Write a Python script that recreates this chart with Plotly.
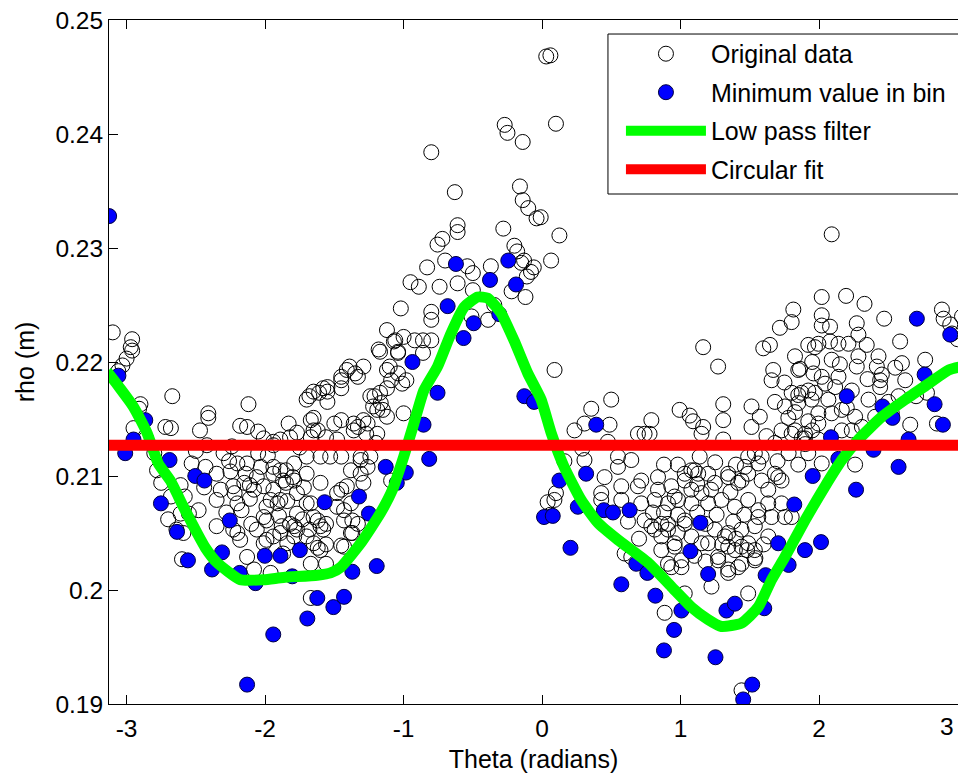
import math
import plotly.graph_objects as go

# ---------------- data (theta in radians, rho in metres) ----------------
orig_region1 = [
    (-3.10, 0.2226), (-2.96, 0.2220), (-2.97, 0.2213), (-2.96, 0.2210), (-3.00, 0.2203),
    (-3.03, 0.2197), (-3.06, 0.2192), (-2.90, 0.2163), (-2.91, 0.2159), (-2.95, 0.2142),
    (-2.67, 0.2170), (-2.72, 0.2143), (-2.41, 0.2155), (-2.41, 0.2151), (-2.42, 0.2127),
    (-2.53, 0.2111), (-2.43, 0.2108), (-2.35, 0.2102), (-2.75, 0.2094), (-2.61, 0.2092),
    (-2.68, 0.2082), (-2.58, 0.2082), (-2.55, 0.2067), (-2.61, 0.2067), (-2.35, 0.2079),
    (-2.35, 0.2056), (-2.59, 0.2050), (-2.64, 0.2053), (-2.60, 0.2027), (-2.68, 0.2142),
    (-2.80, 0.2120), (-2.86, 0.2133), (-2.78, 0.2105), (-2.50, 0.2122), (-2.47, 0.2140),
    (-2.44, 0.2090), (-2.48, 0.2070), (-2.30, 0.2120), (-2.32, 0.2088), (-2.70, 0.2062),
]
orig_region2 = [
    (-2.26, 0.2113), (-2.25, 0.2104), (-2.14, 0.2102), (-2.06, 0.2099), (-1.94, 0.2108),
    (-1.85, 0.2105), (-1.80, 0.2099), (-1.70, 0.2102), (-1.60, 0.2094), (-1.85, 0.2094),
    (-1.94, 0.2088), (-2.11, 0.2092), (-2.23, 0.2091), (-2.20, 0.2076), (-2.11, 0.2080),
    (-1.99, 0.2073), (-1.89, 0.2079), (-1.77, 0.2067), (-1.70, 0.2076), (-1.62, 0.2061),
    (-1.99, 0.2061), (-1.88, 0.2056), (-1.77, 0.2053), (-1.68, 0.2053), (-2.20, 0.2050),
    (-1.94, 0.2047), (-2.01, 0.2041), (-1.84, 0.2041), (-1.65, 0.2041), (-2.24, 0.2126),
    (-2.12, 0.2163), (-2.18, 0.2144), (-2.05, 0.2139), (-1.83, 0.2146), (-1.77, 0.2138),
    (-1.70, 0.2167), (-1.65, 0.2174), (-1.58, 0.2177), (-1.65, 0.2151), (-1.65, 0.2140),
    (-1.94, 0.2130), (-2.13, 0.2143), (-2.23, 0.2053), (-2.13, 0.2029), (-2.08, 0.2018),
    (-1.99, 0.2044), (-1.89, 0.2050), (-1.79, 0.2056), (-1.70, 0.2047), (-1.60, 0.2035),
    (-1.96, 0.2015), (-1.67, 0.2023), (-1.67, 0.1993), (-1.60, 0.2056), (-2.18, 0.2044),
    (-1.87, 0.2032), (-1.68, 0.2170), (-1.61, 0.2173), (-1.55, 0.2174), (-1.55, 0.2165),
    (-1.67, 0.2149), (-1.62, 0.2140), (-1.67, 0.2134), (-1.56, 0.2134), (-1.89, 0.2132),
    (-1.94, 0.2127), (-2.01, 0.2133), (-1.82, 0.2134), (-1.60, 0.2117), (-1.70, 0.2117),
    (-1.79, 0.2111), (-1.89, 0.2105), (-1.87, 0.2096), (-1.79, 0.2096), (-1.94, 0.2102),
    (-2.01, 0.2091), (-2.08, 0.2088), (-2.15, 0.2094), (-2.20, 0.2111), (-2.13, 0.2111),
    (-1.96, 0.2079), (-1.91, 0.2076), (-1.77, 0.2085), (-1.67, 0.2076), (-1.58, 0.2053),
    (-1.65, 0.2064), (-1.82, 0.2058), (-2.01, 0.2064), (-2.06, 0.2053), (-1.79, 0.2047),
    (-1.62, 0.2037), (-1.55, 0.2178), (-2.05, 0.2120), (-1.98, 0.2118), (-1.75, 0.2125),
    (-1.72, 0.2090), (-2.17, 0.2070), (-2.28, 0.2068), (-2.10, 0.2058), (-1.90, 0.2065),
    (-1.73, 0.2062), (-1.84, 0.2078), (-2.03, 0.2108), (-2.22, 0.2085),
]
orig_region3 = [
    (-1.45, 0.2187), (-1.45, 0.2177), (-1.39, 0.2196), (-1.35, 0.2190), (-1.29, 0.2196),
    (-1.33, 0.2187), (-1.18, 0.2211), (-1.10, 0.2196), (-1.07, 0.2218), (-1.04, 0.2208),
    (-1.00, 0.2222), (-0.92, 0.2219), (-0.86, 0.2219), (-1.04, 0.2190), (-0.98, 0.2184),
    (-1.09, 0.2184), (-1.12, 0.2177), (-1.24, 0.2170), (-1.17, 0.2173), (-1.15, 0.2158),
    (-1.22, 0.2161), (-1.12, 0.2152), (-1.00, 0.2155), (-1.29, 0.2149), (-1.36, 0.2146),
    (-1.45, 0.2149), (-1.50, 0.2146), (-1.36, 0.2140), (-1.27, 0.2137), (-1.19, 0.2137),
    (-1.48, 0.2132), (-1.31, 0.2117), (-1.24, 0.2117), (-1.26, 0.2108), (-1.38, 0.2105),
    (-1.45, 0.2117), (-1.53, 0.2117), (-1.48, 0.2073), (-1.45, 0.2088), (-1.38, 0.2076),
    (-1.43, 0.2061), (-1.33, 0.2058), (-1.38, 0.2050), (-1.45, 0.2039), (-1.19, 0.2158),
    (-1.21, 0.2170), (-1.41, 0.2193), (-1.45, 0.2184), (-1.17, 0.2209), (-1.04, 0.2209),
    (-0.86, 0.2208), (-1.12, 0.2193), (-1.01, 0.2181), (-1.12, 0.2228), (-1.06, 0.2219),
    (-0.80, 0.2219), (-1.02, 0.2247), (-0.80, 0.2244), (-0.80, 0.2237), (-0.95, 0.2270),
    (-0.89, 0.2266), (-0.74, 0.2266), (-0.83, 0.2283), (-0.80, 0.2384), (-1.33, 0.2143),
    (-1.26, 0.2146), (-1.20, 0.2129), (-1.31, 0.2114), (-1.31, 0.2102), (-1.41, 0.2091),
    (-1.48, 0.2085), (-1.43, 0.2070), (-1.37, 0.2061), (-1.37, 0.2050), (-1.43, 0.2038),
    (-1.56, 0.2058), (-1.56, 0.2040), (-1.56, 0.2023), (-1.09, 0.2096), (-1.29, 0.2094),
    (-1.165, 0.2164),
]
orig_region4 = [
    (-0.27, 0.2408), (-0.25, 0.2401), (-0.14, 0.2393), (-0.63, 0.2349), (-0.16, 0.2354),
    (-0.14, 0.2342), (-0.10, 0.2335), (-0.04, 0.2326), (-0.28, 0.2317), (-0.61, 0.2320),
    (-0.61, 0.2314), (-0.72, 0.2308), (-0.755, 0.2303), (-0.70, 0.2289), (-0.54, 0.2284),
    (-0.50, 0.2278), (-0.37, 0.2284), (-0.18, 0.2297), (-0.13, 0.2289), (-0.08, 0.2279),
    (-0.12, 0.2257), (-0.61, 0.2269), (-0.50, 0.2263), (-0.345, 0.2250), (-0.39, 0.2237),
    (-0.51, 0.2240), (0.03, 0.2468), (0.06, 0.2469), (0.10, 0.2409), (-0.01, 0.2327),
    (0.125, 0.2311), (0.065, 0.2289), (0.09, 0.2193), (0.04, 0.2077), (0.06, 0.2066),
    (0.10, 0.2085), (-0.22, 0.2262), (-0.20, 0.2302), (-0.15, 0.2287), (-0.06, 0.2283),
    (-0.11, 0.2275),
]
orig_region5 = [
    (0.355, 0.2159), (0.306, 0.2146), (0.234, 0.2140), (0.487, 0.2145), (0.499, 0.2167),
    (0.789, 0.2149), (0.740, 0.2137), (0.692, 0.2137), (0.475, 0.2130), (0.548, 0.2117),
    (0.548, 0.2108), (0.644, 0.2114), (0.306, 0.2114), (0.161, 0.2113), (0.451, 0.2099),
    (0.572, 0.2091), (0.716, 0.2096), (0.692, 0.2091), (0.837, 0.2099), (0.837, 0.2088),
    (0.933, 0.2091), (1.030, 0.2096), (0.957, 0.2082), (1.078, 0.2088), (1.151, 0.2085),
    (1.247, 0.2094), (1.344, 0.2099), (1.416, 0.2094), (1.488, 0.2102), (1.127, 0.2102),
    (1.078, 0.2105), (1.585, 0.2096), (0.427, 0.2085), (0.427, 0.2079), (0.572, 0.2079),
    (0.716, 0.2076), (0.813, 0.2079), (0.909, 0.2076), (0.982, 0.2079), (1.078, 0.2076),
    (1.199, 0.2076), (1.295, 0.2079), (1.392, 0.2073), (1.488, 0.2079), (1.561, 0.2070),
    (0.089, 0.2079), (0.740, 0.2061), (0.789, 0.2056), (0.861, 0.2058), (0.909, 0.2053),
    (1.030, 0.2058), (1.247, 0.2053), (1.344, 0.2050), (1.440, 0.2053), (1.536, 0.2056),
    (1.633, 0.2047), (1.344, 0.2038), (1.440, 0.2038), (1.536, 0.2035), (0.957, 0.2038),
    (0.861, 0.2035), (1.006, 0.2026), (0.933, 0.2020), (0.596, 0.2032), (0.644, 0.2029),
    (1.271, 0.2026), (1.344, 0.2015), (1.416, 0.2020), (1.223, 0.2003), (1.488, 0.1997),
    (0.885, 0.1980), (1.030, 0.1997), (1.078, 0.2047), (1.151, 0.2041), (1.163, 0.2213),
    (1.271, 0.2196), (0.993, 0.2158), (1.066, 0.2153), (1.090, 0.2148), (1.163, 0.2143),
    (1.151, 0.2137), (1.308, 0.2163), (1.308, 0.2149), (1.308, 0.2132), (1.512, 0.2161),
    (1.572, 0.2152), (1.512, 0.2143), (1.138, 0.2117), (1.488, 0.2117), (1.585, 0.2117),
    (1.561, 0.2111), (1.030, 0.2102), (1.102, 0.2105), (1.199, 0.2102), (1.344, 0.2102),
    (1.440, 0.2096), (1.633, 0.2088), (1.633, 0.2076), (1.561, 0.2064), (1.320, 0.2047),
    (1.199, 0.2041), (1.271, 0.2029), (1.392, 0.2035), (1.488, 0.2041), (1.536, 0.2026),
    (1.440, 0.2023), (1.344, 0.2018), (0.957, 0.2041), (0.861, 0.2047), (0.813, 0.2053),
    (0.909, 0.2058), (1.030, 0.2061), (0.740, 0.2023), (0.909, 0.2023), (1.006, 0.2020),
    (0.776, 0.2137), (0.290, 0.2124), (1.440, 0.1912), (0.62, 0.2060), (0.70, 0.2045),
    (0.80, 0.2068), (0.88, 0.2068), (0.98, 0.2066), (1.12, 0.2068), (1.18, 0.2058),
    (1.26, 0.2066), (1.38, 0.2060), (1.46, 0.2066), (1.10, 0.2030), (1.18, 0.2025),
    (1.30, 0.2040), (1.40, 0.2045), (0.98, 0.2050), (1.12, 0.2093), (1.22, 0.2088),
    (1.36, 0.2086), (0.88, 0.2110), (0.98, 0.2110), (1.25, 0.2112), (1.40, 0.2110),
]
orig_region6 = [
    (1.597, 0.2212), (1.645, 0.2215), (1.669, 0.2193), (1.657, 0.2184), (1.826, 0.2205),
    (1.862, 0.2194), (1.959, 0.2190), (1.922, 0.2175), (1.970, 0.2173), (1.850, 0.2171),
    (1.681, 0.2165), (1.753, 0.2161), (1.826, 0.2156), (1.778, 0.2151), (1.729, 0.2140),
    (1.826, 0.2140), (1.922, 0.2148), (1.898, 0.2133), (1.995, 0.2146), (1.970, 0.2213),
    (1.681, 0.2102), (1.729, 0.2096), (1.729, 0.2076), (1.753, 0.2064), (2.091, 0.2312),
    (2.019, 0.2257), (2.195, 0.2258), (2.328, 0.2251), (1.814, 0.2246), (2.019, 0.2241),
    (1.802, 0.2235), (1.717, 0.2230), (2.019, 0.2232), (2.079, 0.2231), (2.272, 0.2234),
    (2.470, 0.2238), (2.887, 0.2246), (2.899, 0.2238), (2.947, 0.2233), (1.922, 0.2215),
    (1.995, 0.2216), (2.079, 0.2218), (2.140, 0.2216), (2.212, 0.2216), (2.284, 0.2224),
    (2.344, 0.2215), (2.585, 0.2218), (1.850, 0.2193), (2.091, 0.2202), (2.019, 0.2187),
    (2.284, 0.2205), (2.272, 0.2196), (2.429, 0.2205), (2.417, 0.2196), (2.598, 0.2199),
    (2.766, 0.2202), (2.140, 0.2187), (2.116, 0.2178), (2.043, 0.2181), (1.874, 0.2173),
    (1.946, 0.2167), (2.067, 0.2167), (2.236, 0.2175), (2.357, 0.2167), (2.441, 0.2178),
    (2.453, 0.2189), (2.441, 0.2184), (2.622, 0.2184), (2.574, 0.2170), (2.779, 0.2173),
    (1.802, 0.2173), (1.850, 0.2164), (1.995, 0.2155), (2.091, 0.2155), (2.164, 0.2158),
    (2.260, 0.2152), (2.309, 0.2143), (2.405, 0.2152), (2.525, 0.2155), (2.658, 0.2145),
    (2.851, 0.2146), (1.802, 0.2137), (2.164, 0.2140), (2.236, 0.2140), (1.536, 0.2120),
    (1.681, 0.2129), (1.922, 0.2120), (2.019, 0.2111), (2.260, 0.2110), (1.464, 0.2108),
    (1.705, 0.2099), (1.657, 0.2064), (1.802, 0.2064), (3.032, 0.2240), (1.875, 0.2133),
    (1.950, 0.2140), (1.900, 0.2128), (2.960, 0.2225), (3.000, 0.2220), (1.600, 0.2040),
    (1.480, 0.2035), (1.540, 0.2028), (1.995, 0.2132), (1.898, 0.2137), (1.75, 0.2182),
    (1.95, 0.2200), (2.15, 0.2198), (2.35, 0.2185), (2.55, 0.2195), (2.70, 0.2170),
    (2.20, 0.2160), (2.50, 0.2165), (1.70, 0.2113), (1.78, 0.2120), (1.85, 0.2110),
    (1.62, 0.2135),
]

min_in_bin = [
    (-3.126, 0.2328), (-3.059, 0.2188), (-2.865, 0.2149), (-2.950, 0.2132), (-3.010, 0.2120),
    (-2.690, 0.2114), (-2.504, 0.2100), (-2.438, 0.2096), (-2.752, 0.2076), (-2.636, 0.2051),
    (-2.255, 0.2061), (-1.570, 0.2077), (-2.311, 0.2033), (-2.557, 0.2026), (-2.383, 0.2018),
    (-2.183, 0.2015), (-2.069, 0.2006), (-2.002, 0.2030), (-1.889, 0.2030), (-1.804, 0.2012),
    (-1.749, 0.2035), (-1.623, 0.1993), (-1.695, 0.1975), (-1.507, 0.1985), (-1.941, 0.1961),
    (-2.130, 0.1917), (-1.430, 0.1994), (-0.755, 0.2173), (-0.856, 0.2145), (-0.815, 0.2115),
    (-1.129, 0.2108), (-0.984, 0.2103), (-1.049, 0.2094), (-1.322, 0.2082), (-1.250, 0.2067),
    (-1.370, 0.2016), (-1.194, 0.2021), (-0.128, 0.2170), (-0.058, 0.2165), (0.014, 0.2064),
    (-0.622, 0.2286), (-0.244, 0.2289), (-0.376, 0.2272), (-0.188, 0.2268), (-0.682, 0.2249),
    (-0.309, 0.2242), (-0.494, 0.2234), (-0.567, 0.2221), (-0.936, 0.2200), (0.391, 0.2145),
    (0.125, 0.2096), (0.318, 0.2102), (0.077, 0.2065), (0.258, 0.2073), (0.446, 0.2070),
    (0.512, 0.2068), (0.632, 0.2070), (0.205, 0.2037), (0.572, 0.2005), (0.680, 0.2023),
    (0.760, 0.2015), (0.818, 0.1995), (1.006, 0.1982), (0.953, 0.1965), (0.880, 0.1947),
    (1.071, 0.2034), (1.143, 0.2059), (1.199, 0.2014), (1.331, 0.1982), (1.392, 0.1988),
    (1.252, 0.1941), (1.517, 0.1917), (1.452, 0.1904), (1.614, 0.2013), (1.604, 0.1984),
    (2.706, 0.2238), (2.947, 0.2224), (3.068, 0.2216), (2.762, 0.2189), (2.834, 0.2163),
    (2.894, 0.2145), (2.200, 0.2170), (2.458, 0.2161), (2.530, 0.2151), (2.086, 0.2134),
    (2.646, 0.2132), (2.139, 0.2115), (2.393, 0.2123), (1.954, 0.2100), (2.574, 0.2108),
    (2.267, 0.2088), (1.821, 0.2075), (1.705, 0.2041), (1.898, 0.2035), (2.014, 0.2042),
    (1.780, 0.2022),
]

lowpass_theta = [
    -3.1416, -3.124, -2.952, -2.853, -2.771, -2.684, -2.590, -2.491, -2.431, -2.347,
    -2.178, -2.011, -1.867, -1.623, -1.527, -1.454, -1.310, -1.165, -1.080, -0.999,
    -0.926, -0.854, -0.755, -0.658, -0.564, -0.465, -0.393, -0.297, -0.203, -0.103,
    -0.007, 0.065, 0.159, 0.282, 0.403, 0.548, 0.765, 0.933, 1.078, 1.199,
    1.295, 1.440, 1.561, 1.657, 1.753, 1.898, 2.043, 2.164, 2.284, 2.453,
    2.622, 2.791, 2.936, 3.075, 3.1416,
]
lowpass_rho = [
    0.2191, 0.2189, 0.2161, 0.2138, 0.2111, 0.2096, 0.2073, 0.2050, 0.2037, 0.2024,
    0.2009, 0.2009, 0.2011, 0.2013, 0.2015, 0.2020, 0.2041, 0.2068, 0.2088, 0.2117,
    0.2146, 0.2175, 0.2196, 0.2225, 0.2248, 0.2257, 0.2256, 0.2243, 0.2219, 0.2190,
    0.2167, 0.2138, 0.2108, 0.2079, 0.2059, 0.2044, 0.2024, 0.2003, 0.1985, 0.1974,
    0.1968, 0.1971, 0.1985, 0.2009, 0.2029, 0.2061, 0.2091, 0.2114, 0.2132, 0.2152,
    0.2167, 0.2181, 0.2193, 0.2197, 0.2198,
]

circfit_theta = [-math.pi, math.pi]
circfit_rho = [0.2127, 0.2127]

x_tick_vals = [-3, -2, -1, 0, 1, 2, 3]
x_tick_text = ["-3", "-2", "-1", "0", "1", "2", "3"]
y_tick_vals = [0.19, 0.20, 0.21, 0.22, 0.23, 0.24, 0.25]
y_tick_text = ["0.19", "0.2", "0.21", "0.22", "0.23", "0.24", "0.25"]

# ---------------- figure ----------------
orig_all = orig_region1 + orig_region2 + orig_region3 + orig_region4 + orig_region5 + orig_region6
FONT = "Arial, 'Liberation Sans', Helvetica, sans-serif"

fig = go.Figure()
fig.add_trace(go.Scatter(
    x=[p[0] for p in orig_all], y=[p[1] for p in orig_all],
    mode="markers", name="Original data", legendgroup="a",
    marker=dict(symbol="circle-open", size=15, color="black", line=dict(width=1, color="black")),
))
fig.add_trace(go.Scatter(
    x=[p[0] for p in min_in_bin], y=[p[1] for p in min_in_bin],
    mode="markers", name="Minimum value in bin", legendgroup="b",
    marker=dict(symbol="circle", size=15, color="#0000FF", line=dict(width=1, color="#000040")),
))
fig.add_trace(go.Scatter(
    x=lowpass_theta, y=lowpass_rho, mode="lines", name="Low pass filter", legendgroup="c",
    line=dict(color="#00FF00", width=11, shape="spline", smoothing=0.5),
))
fig.add_trace(go.Scatter(
    x=circfit_theta, y=circfit_rho, mode="lines", name="Circular fit", legendgroup="d",
    line=dict(color="#FF0000", width=11),
))

# legend frame (open on the right: it runs past the page edge, like the reference)
fig.add_shape(
    type="path", xref="paper", yref="paper",
    path="M 1.02,0.9795 L 0.5877,0.9795 L 0.5877,0.7456 L 1.02,0.7456",
    line=dict(color="black", width=1), fillcolor="white", layer="above",
)

# the last x tick label sits right at the page edge: keep it inside as an annotation
x_tick_labels_drawn = x_tick_text[:-1] + [""]
fig.add_annotation(
    x=x_tick_vals[-1], y=0, xref="x", yref="paper",
    text=x_tick_text[-1], showarrow=False,
    xanchor="right", yanchor="middle", xshift=-2, yshift=-22,
    font=dict(family=FONT, size=24.5, color="black"),
)

fig.update_layout(
    width=950, height=765,
    margin=dict(l=101, r=0, t=12, b=69, pad=0, autoexpand=False),
    paper_bgcolor="white", plot_bgcolor="white",
    font=dict(family=FONT, size=24, color="black"),
    showlegend=True,
    legend=dict(
        x=0.603, y=0.984, xanchor="left", yanchor="top",
        bgcolor="rgba(0,0,0,0)", borderwidth=0,
        font=dict(family=FONT, size=25, color="black"),
        itemwidth=80, tracegroupgap=3, traceorder="grouped",
    ),
    xaxis=dict(
        range=[-3.127, 3.003], tickvals=x_tick_vals, ticktext=x_tick_labels_drawn,
        ticks="inside", ticklen=9, tickcolor="black", tickwidth=1,
        showline=True, linecolor="black", linewidth=1, mirror="ticks",
        showgrid=False, zeroline=False, ticklabeloverflow="allow",
        automargin=False, ticklabelstandoff=3,
        tickfont=dict(family=FONT, size=24.5),
        title=dict(text="Theta (radians)", font=dict(family=FONT, size=25), standoff=11),
    ),
    yaxis=dict(
        range=[0.19, 0.25], tickvals=y_tick_vals, ticktext=y_tick_text,
        ticks="inside", ticklen=9, tickcolor="black", tickwidth=1,
        showline=True, linecolor="black", linewidth=1, mirror=False,
        showgrid=False, zeroline=False, ticklabeloverflow="allow",
        automargin=False,
        tickfont=dict(family=FONT, size=24.5),
        title=dict(text="rho (m)", font=dict(family=FONT, size=25), standoff=13),
    ),
)

fig.write_html("out.html")
